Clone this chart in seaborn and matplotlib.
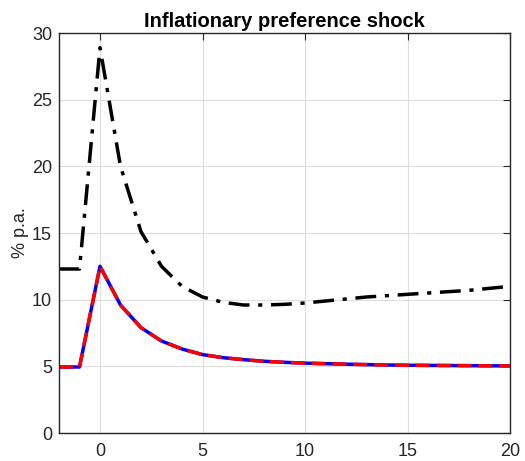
import matplotlib
matplotlib.use("Agg")
import matplotlib.pyplot as plt
import seaborn as sns
import pandas as pd

periods = list(range(-2, 21))
black_series = [12.3, 12.3, 28.9, 20.0, 15.1, 12.5, 11.0, 10.2, 9.8, 9.6, 9.6, 9.65, 9.75,
                9.9, 10.05, 10.2, 10.3, 10.4, 10.5, 10.6, 10.7, 10.85, 11.0]
blue_series = [4.95, 4.95, 12.5, 9.6, 7.9, 6.9, 6.3, 5.88, 5.65, 5.5, 5.38, 5.3, 5.24,
               5.2, 5.16, 5.13, 5.1, 5.08, 5.07, 5.06, 5.05, 5.04, 5.03]
red_series = list(blue_series)

title = "Inflationary preference shock"
ylabel = "% p.a."
xticks = [0, 5, 10, 15, 20]
yticks = [0, 5, 10, 15, 20, 25, 30]

df = pd.DataFrame({"t": periods, "black": black_series, "blue": blue_series, "red": red_series})

sns.set_style("white")
plt.rcParams['font.family'] = ['Liberation Sans', 'DejaVu Sans']

fig = plt.figure(figsize=(5.25, 4.61), dpi=100)
ax = fig.add_axes([59/525, 1-433/461, (510-59)/525, (433-33)/461])

sns.lineplot(data=df, x="t", y="black", ax=ax, color="black", linewidth=2.5,
             linestyle=(0, (6, 2.5, 1.2, 2.5)))
sns.lineplot(data=df, x="t", y="blue", ax=ax, color="#0000ff", linewidth=2.5)
sns.lineplot(data=df, x="t", y="red", ax=ax, color="#ff0000", linewidth=2.5,
             linestyle=(0, (4, 2)))

ax.set_xlim(-2, 20)
ax.set_ylim(0, 30)
ax.set_xticks(xticks)
ax.set_yticks(yticks)
ax.grid(True, color="#dedede", linewidth=0.8)
ax.set_axisbelow(True)
for s in ax.spines.values():
    s.set_visible(True)
    s.set_color("#262626")
    s.set_linewidth(1.0)
ax.tick_params(direction="in", length=5, width=0.8, colors="#262626", labelsize=13,
               top=True, right=True, labelcolor="#262626")
ax.tick_params(axis="x", pad=7)
ax.tick_params(axis="y", pad=5)
ax.set_xlabel("")
ax.set_ylabel(ylabel, fontsize=13, color="#262626", labelpad=2)
ax.set_title(title, fontsize=14.5, fontweight="bold", color="black", pad=4)

fig.savefig("out.png", dpi=100)
